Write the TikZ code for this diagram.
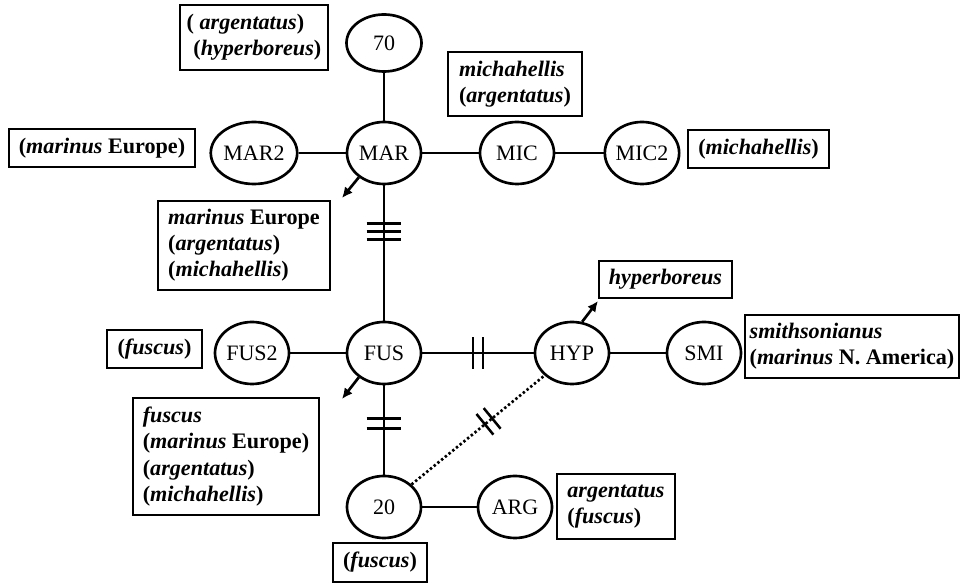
\documentclass[tikz,border=0pt]{standalone}
\usepackage{fontspec}
\setmainfont{Liberation Serif}
\usetikzlibrary{arrows.meta,decorations.markings,shapes.geometric}
\tikzset{
  hap/.style={ellipse, draw, line width=2pt, minimum width=55.5pt, minimum height=46.5pt, inner sep=0pt, font=\fontsize{16.5}{19.5}\selectfont},
  lab/.style={draw, line width=1.2pt, inner sep=2pt, align=left, font=\fontsize{16.6}{19.6}\selectfont\bfseries},
  link/.style={line width=1.9pt},
  dots/.style={line width=2pt, dash pattern=on 1.8pt off 1.8pt},
  pointer/.style={line width=2pt, -{Latex[length=8pt,width=7.5pt]}},
  twotick/.style args={#1/#2/#3}{postaction={decorate, decoration={markings, mark=at position #1 with {
     \draw[solid, line width=1.9pt] (-#3,-#2)--(-#3,#2) (#3,-#2)--(#3,#2);}}}},
  threetick/.style={postaction={decorate, decoration={markings, mark=at position #1 with {
     \draw[solid, line width=1.9pt] (-6pt,-13pt)--(-6pt,13pt) (0pt,-13pt)--(0pt,13pt) (6pt,-13pt)--(6pt,13pt);}}}}
}
\begin{document}
\begin{tikzpicture}[x=0.75pt,y=-0.75pt]
\useasboundingbox (0,0) rectangle (961,584);
% haplotype nodes
\node[hap, minimum width=56.25pt, minimum height=42.75pt] (n70) at (384,43) {70};
\node[hap] (MAR)  at (384,153) {MAR};
\node[hap] (MAR2) at (254,153) {MAR2};
\node[hap] (MIC)  at (517,153) {MIC};
\node[hap] (MIC2) at (642,153) {MIC2};
\node[hap] (FUS)  at (384,353) {FUS};
\node[hap] (FUS2) at (252,353) {FUS2};
\node[hap] (HYP)  at (572,353) {HYP};
\node[hap] (SMI)  at (704,353) {SMI};
\node[hap] (n20)  at (384,507) {20};
\node[hap] (ARG)  at (515,507) {ARG};
% label boxes
\node[lab, minimum width=111pt, minimum height=48.75pt] (b70) at (254,37.5)
  {( \textit{argentatus})\\\hspace*{5pt}(\textit{hyperboreus})};
\node[lab, minimum width=100.5pt, minimum height=48pt] (bMIC) at (515,84)
  {\textit{michahellis}\\(\textit{argentatus})};
\node[lab, minimum width=139.5pt, minimum height=28.5pt] (bMAR2) at (102,148)
  {(\textit{marinus} Europe)};
\node[lab, minimum width=105.75pt, minimum height=28.5pt] (bMIC2) at (758.5,149)
  {(\textit{michahellis})};
\node[lab, minimum width=129pt, minimum height=66.75pt] (bMAR) at (244,245.5)
  {\textit{marinus} Europe\\(\textit{argentatus})\\(\textit{michahellis})};
\node[lab, minimum width=99.75pt, minimum height=27.75pt] (bHYP) at (665.5,279.5)
  {\textit{hyperboreus}};
\node[lab, minimum width=160.5pt, minimum height=47.25pt] (bSMI) at (852,346.5)
  {\textit{smithsonianus}\\(\textit{marinus} N. America)};
\node[lab, minimum width=71.25pt, minimum height=28.5pt] (bFUS2) at (154.5,349)
  {(\textit{fuscus})};
\node[lab, minimum width=139.5pt, minimum height=87.75pt] (bFUS) at (226,456.5)
  {\textit{fuscus}\\(\textit{marinus} Europe)\\(\textit{argentatus})\\(\textit{michahellis})};
\node[lab, minimum width=88.5pt, minimum height=48.75pt] (bARG) at (616,506.5)
  {\textit{argentatus}\\(\textit{fuscus})};
\node[lab, minimum width=70.5pt, minimum height=29.25pt] (b20) at (380,562.5)
  {(\textit{fuscus})};
% arrow end points
\coordinate (tMAR) at (342,198);
\coordinate (tFUS) at (342,399);
\coordinate (tHYP) at (598,301);
% connectors
\draw[link] (n70) -- (MAR);
\draw[link] (MAR2) -- (MAR);
\draw[link] (MAR) -- (MIC);
\draw[link] (MIC) -- (MIC2);
\draw[link, threetick=0.34] (MAR) -- (FUS);
\draw[link] (FUS2) -- (FUS);
\draw[link, twotick=0.5/12pt/3.75pt] (FUS) -- (HYP);
\draw[link] (HYP) -- (SMI);
\draw[link, twotick=0.43/13pt/3.75pt] (FUS) -- (n20);
\draw[link] (n20) -- (ARG);
\draw[dots, twotick=0.58/10pt/3.5pt] (n20) -- (HYP);
\draw[pointer] (MAR.224) -- (tMAR);
\draw[pointer] (FUS.224) -- (tFUS);
\draw[pointer] (HYP.72) -- (tHYP);
\end{tikzpicture}
\end{document}
